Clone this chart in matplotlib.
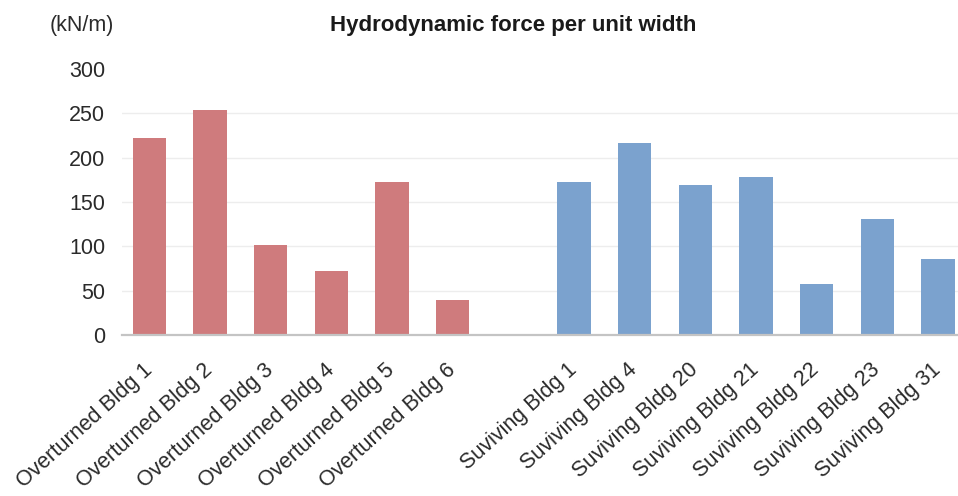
import matplotlib
matplotlib.use("Agg")
import matplotlib.pyplot as plt
import numpy as np

plt.rcParams["font.family"] = ["Liberation Sans", "DejaVu Sans"]

overturned_labels = ["Overturned Bldg 1", "Overturned Bldg 2", "Overturned Bldg 3",
                     "Overturned Bldg 4", "Overturned Bldg 5", "Overturned Bldg 6"]
overturned_force = [222, 254, 101, 72, 172, 40]

surviving_labels = ["Suviving Bldg 1", "Suviving Bldg 4", "Suviving Bldg 20",
                    "Suviving Bldg 21", "Suviving Bldg 22", "Suviving Bldg 23",
                    "Suviving Bldg 31"]
surviving_force = [172, 217, 169, 178, 58, 131, 86]

y_ticks = [0, 50, 100, 150, 200, 250, 300]

red = "#CF7B7D"
blue = "#7BA2CE"

fig = plt.figure(figsize=(9.58, 4.96), dpi=100)
ax = fig.add_axes([122 / 958, 161 / 496, 1 - 122 / 958, (427 - 161) / 496])

# one empty slot separates the two groups
x_over = np.arange(len(overturned_force))
x_surv = np.arange(len(surviving_force)) + len(overturned_force) + 1
bar_w = 0.55

ax.bar(x_over, overturned_force, width=bar_w, color=red, zorder=3)
ax.bar(x_surv, surviving_force, width=bar_w, color=blue, zorder=3)

ax.set_xlim(-0.45, 13.33)
ax.set_ylim(0, 300)
ax.set_yticks(y_ticks)
ax.set_yticklabels([str(v) for v in y_ticks], fontsize=15.5, color="#2a2a2a")

ax.set_xticks(np.concatenate([x_over, x_surv]))
ax.set_xticklabels(overturned_labels + surviving_labels, rotation=42,
                   ha="right", va="center", rotation_mode="anchor",
                   fontsize=15.5, color="#2a2a2a")

ax.tick_params(axis="both", length=0)
ax.tick_params(axis="y", pad=12)
ax.tick_params(axis="x", pad=23)

ax.grid(axis="y", color="#EDEDED", linewidth=1.0, zorder=0)
ax.set_axisbelow(True)
gl = ax.yaxis.get_gridlines()
gl[-1].set_visible(False)
gl[0].set_visible(False)

for side in ["left", "right", "top"]:
    ax.spines[side].set_visible(False)
ax.spines["bottom"].set_color("#C4C4C4")
ax.spines["bottom"].set_linewidth(1.6)
ax.spines["bottom"].set_zorder(4)

fig.text(82 / 958, 1 - 25 / 496, "(kN/m)", ha="center", va="center",
         fontsize=15.5, color="#2a2a2a")
fig.text(513 / 958, 1 - 25 / 496, "Hydrodynamic force per unit width",
         ha="center", va="center", fontsize=16, fontweight="bold", color="#1a1a1a")

fig.savefig("out.png", dpi=100, facecolor="white")
